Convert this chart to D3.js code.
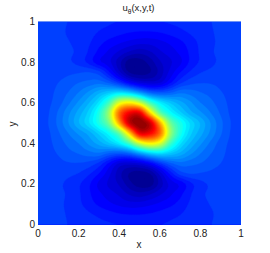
<!DOCTYPE html>
<html>
<head>
<meta charset="utf-8">
<script src="https://cdn.jsdelivr.net/npm/d3@7"></script>
<style>
  html, body { margin: 0; padding: 0; background: #fff; }
  text { font-family: "Liberation Sans", Arial, sans-serif; fill: #222; }
</style>
</head>
<body>
<div id="chart"></div>
<script>
const xTicks = [0, 0.2, 0.4, 0.6, 0.8, 1];
const yTicks = [0, 0.2, 0.4, 0.6, 0.8, 1];

// field, position on the jet colormap x100
// rows run from y = 1 down to y = 0, columns x = 0 to 1, step 0.05
const field = [
  [19,19,19,18.7,18,17.6,17.2,16.9,16.6,16.4,16.3,16.4,16.6,16.9,17.2,17.6,18,18.7,19,19,19],
  [19,19,19,18.6,18,17.4,16.6,16,15.3,14.8,14.5,14.5,14.8,15.4,16.2,17,18,18.6,19,19,19],
  [19,19,19,18.8,18.2,17,15.4,14,13,12,11.3,11.3,12,13,14.2,15.6,17.2,18.4,19,19,19],
  [19,19,19,19,18.3,16.4,14,12,10,8,7,8,10,11.4,13,15,17,18.5,19,19,19],
  [19,19,19,19,18,16,13,11,7,3,3,5,8,10,12,15,17,18.3,19,19,19],
  [19,19.3,19.8,20.3,20.6,20.8,19.5,15,9,4,3,4,7,11,14.5,17,18.6,19.2,19.4,19.2,19],
  [19,19.7,20.8,21.8,22.8,23.5,24,22,18,13,10,9,10,14,18,20,20.6,20.6,20.2,19.6,19],
  [19,20,21.5,23,25,27.5,30.5,33,35,33,28,23,21.5,22.5,24.5,24,23,22.2,21,20,19],
  [19,20.3,22,24.5,27.5,31,36,45,60,64,58,45,37,33,30,27.5,25,23.5,21.8,20.2,19],
  [19,20.6,23.2,26.5,30,34,41,54,78,89,90,68,48,39,34,30,27.5,25,22.6,20.4,19],
  [19,20.8,23.5,27,31,35,41,50,72,94,100,94,72,50,41,35,31,27,23.5,20.8,19],
  [19,20.4,22.6,25,27.5,30,34,39,48,68,90,89,78,54,41,34,30,26.5,23.2,20.6,19],
  [19,20.2,21.8,23.5,25,27.5,30,33,37,45,58,64,60,45,36,31,27.5,24.5,22,20.3,19],
  [19,20,21,22.2,23,24,24.5,22.5,21.5,23,28,33,35,33,30.5,27.5,25,23,21.5,20,19],
  [19,19.6,20.2,20.6,20.6,20,18,14,10,9,10,13,18,22,24,23.5,22.8,21.8,20.8,19.7,19],
  [19,19.2,19.4,19.2,18.6,17,14.5,11,7,4,3,4,9,15,19.5,20.8,20.6,20.3,19.8,19.3,19],
  [19,19,19,18.3,17,15,12,10,8,5,3,3,7,11,13,16,18,19,19,19,19],
  [19,19,19,18.5,17,15,13,11.4,10,8,7,8,10,12,14,16.4,18.3,19,19,19,19],
  [19,19,19,18.4,17.2,15.6,14.2,13,12,11.3,11.3,12,13,14,15.4,17,18.2,18.8,19,19,19],
  [19,19,19,18.6,18,17,16.2,15.4,14.8,14.5,14.5,14.8,15.3,16,16.6,17.4,18,18.6,19,19,19],
  [19,19,19,18.7,18,17.6,17.2,16.9,16.6,16.4,16.3,16.4,16.6,16.9,17.2,17.6,18,18.7,19,19,19]
];

const jetStops = [0, 0.125, 0.375, 0.625, 0.875, 1];
const jetColors = ["#000080", "#0000ff", "#00ffff", "#ffff00", "#ff0000", "#800000"];

const width = 270, height = 253;
const x = d3.scaleLinear().domain([0, 1]).range([38, 241]);
const y = d3.scaleLinear().domain([0, 1]).range([224.5, 21.5]);
const jet = d3.scaleLinear().domain(jetStops).range(jetColors).clamp(true);

const svg = d3.select("#chart").append("svg")
  .attr("width", width)
  .attr("height", height)
  .style("display", "block");

svg.append("clipPath").attr("id", "plot-clip")
  .append("rect")
  .attr("x", x(0)).attr("y", y(1))
  .attr("width", x(1) - x(0)).attr("height", y(0) - y(1));

// cubic resampling of the read grid so the filled bands come out round
const factor = 4;
function cubic(a, b, c, d, t) {
  return b + 0.5 * t * (c - a + t * (2 * a - 5 * b + 4 * c - d + t * (3 * (b - c) + d - a)));
}
function resample(grid) {
  const m = grid.length, size = (m - 1) * factor + 1, out = [];
  const at = (r, c) => grid[Math.max(0, Math.min(m - 1, r))][Math.max(0, Math.min(m - 1, c))];
  for (let r = 0; r < size; r++) {
    const r0 = Math.min(Math.floor(r / factor), m - 2), tr = r / factor - r0;
    for (let c = 0; c < size; c++) {
      const c0 = Math.min(Math.floor(c / factor), m - 2), tc = c / factor - c0;
      const col = [-1, 0, 1, 2].map(k => cubic(at(r0 + k, c0 - 1), at(r0 + k, c0), at(r0 + k, c0 + 1), at(r0 + k, c0 + 2), tc));
      out.push(cubic(col[0], col[1], col[2], col[3], tr) / 100);
    }
  }
  return { size, out };
}

const fine = resample(field);
const n = fine.size;

const contours = d3.contours()
  .size([n, n])
  .thresholds(d3.range(0, 1.0001, 1 / 48))(fine.out);

// contour coordinates put grid nodes at i + 0.5
const toPlot = d3.geoTransform({
  point: function (cx, cy) {
    this.stream.point(x((cx - 0.5) / (n - 1)), y(1 - (cy - 0.5) / (n - 1)));
  }
});
const path = d3.geoPath(toPlot);

const plot = svg.append("g").attr("clip-path", "url(#plot-clip)");
plot.append("rect")
  .attr("x", x(0)).attr("y", y(1))
  .attr("width", x(1) - x(0)).attr("height", y(0) - y(1))
  .attr("fill", jet(0.19));
plot.selectAll("path")
  .data(contours)
  .enter()
  .append("path")
  .attr("d", path)
  .attr("fill", d => jet(d.value))
  .attr("stroke", d => jet(d.value))
  .attr("stroke-width", 0.3);

// lighter hairline along the top of the image
svg.append("line")
  .attr("x1", x(0)).attr("x2", x(1))
  .attr("y1", y(1)).attr("y2", y(1))
  .attr("stroke", "#6f94f5")
  .attr("stroke-width", 1);

svg.append("g").selectAll("text")
  .data(xTicks)
  .enter()
  .append("text")
  .attr("x", d => x(d))
  .attr("y", 237)
  .attr("text-anchor", "middle")
  .style("font-size", "10px")
  .text(d => d);

svg.append("g").selectAll("text")
  .data(yTicks)
  .enter()
  .append("text")
  .attr("x", 35)
  .attr("y", d => y(d) + 3.5)
  .attr("text-anchor", "end")
  .style("font-size", "10px")
  .text(d => d);

svg.append("text")
  .attr("x", 139)
  .attr("y", 248)
  .attr("text-anchor", "middle")
  .style("font-size", "10px")
  .text("x");

svg.append("text")
  .attr("transform", "translate(16,124) rotate(-90)")
  .attr("text-anchor", "middle")
  .style("font-size", "10px")
  .text("y");

const title = svg.append("text")
  .attr("x", 138.5)
  .attr("y", 11)
  .attr("text-anchor", "middle")
  .style("font-size", "9.5px");
title.append("tspan").text("u");
title.append("tspan").attr("dy", 2.5).style("font-size", "6.5px").text("θ");
title.append("tspan").attr("dy", -2.5).text("(x,y,t)");
</script>
</body>
</html>
